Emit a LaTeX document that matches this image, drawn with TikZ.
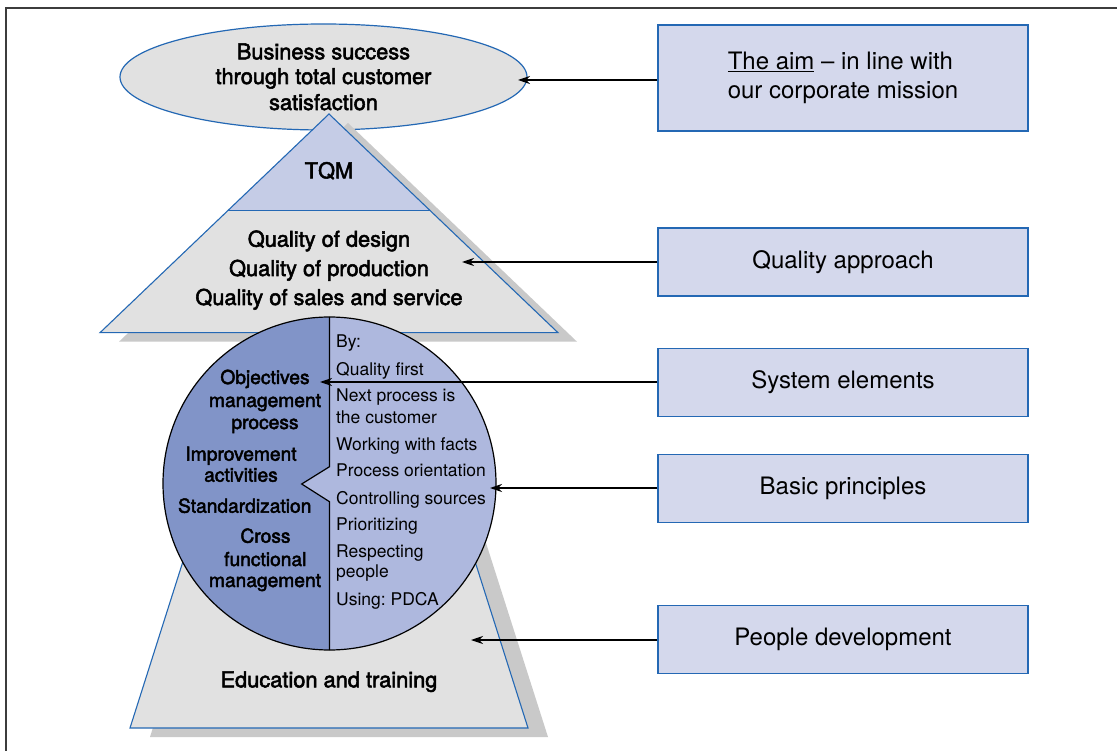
\documentclass[tikz,border=0pt]{standalone}
\usepackage{fontspec}
\setmainfont{TeX Gyre Heros}
\newfontfamily\medfont[FakeBold=2.4]{TeX Gyre Heros}
\usetikzlibrary{shapes.geometric,arrows.meta}
\frenchspacing
\definecolor{edgeblue}{HTML}{2468B4}
\definecolor{fillgray}{HTML}{E1E1E1}
\definecolor{shadowgray}{HTML}{C9C9C9}
\definecolor{tqmblue}{HTML}{C5CCE6}
\definecolor{boxblue}{HTML}{D4D8EC}
\definecolor{darkhalf}{HTML}{8194C8}
\definecolor{lighthalf}{HTML}{AEB8DE}
\definecolor{framegray}{HTML}{3C3C3C}
\begin{document}
\begin{tikzpicture}[x=1pt,y=-1pt,
  outline/.style={draw=edgeblue, line width=1.1pt},
  boxnode/.style={draw=edgeblue, fill=boxblue, line width=1.3pt, minimum width=370pt, minimum height=68pt, inner sep=0pt, align=left, font=\fontsize{24}{29}\selectfont},
  bigbold/.style={font=\fontsize{21.8}{25}\medfont, inner sep=0pt, anchor=base},
  leftbold/.style={font=\fontsize{19.2}{22}\medfont, inner sep=0pt, anchor=base},
  rightreg/.style={font=\fontsize{17.5}{21}\selectfont, inner sep=0pt, anchor=base west},
  arr/.style={-{Stealth[length=12pt,width=8pt]}, line width=1.1pt, black},
]
\useasboundingbox (0,0) rectangle (1117,751);
\fill[white] (0,0) rectangle (1117,751);
% frame
\draw[framegray, line width=2.5pt] (6,790) -- (6,8) -- (1160,8);

% goal ellipse
\node[ellipse, draw=edgeblue, fill=fillgray, line width=1.2pt, minimum width=407pt, minimum height=106pt, inner sep=0pt] (goal) at (323.5,77) {};
\node[bigbold] (g1) at (323.5,59.3) {Business success};
\node[bigbold] (g2) at (323.5,84) {through total customer};
\node[bigbold] (g3) at (323.5,110) {satisfaction};

% shadows
\fill[shadowgray] (348,123) -- (577,341.7) -- (119,341.7) -- cycle;
\fill[shadowgray] (150,737) -- (548,737) -- (456,449) -- (241,449) -- cycle;

% trapezoid
\draw[outline, fill=fillgray] (130,728) -- (528,728) -- (436.4,440) -- (221.6,440) -- cycle;

% triangle
\fill[fillgray] (227.7,210.7) -- (430.3,210.7) -- (558,332.7) -- (100,332.7) -- cycle;
\fill[tqmblue] (329,114) -- (430.3,210.7) -- (227.7,210.7) -- cycle;
\draw[outline, line join=miter] (329,114) -- (558,332.7) -- (100,332.7) -- cycle;
\draw[outline] (227.7,210.7) -- (430.3,210.7);
\node[bigbold] (tqm) at (329,178.3) {TQM};
\node[bigbold] (q1) at (329,246.7) {Quality of design};
\node[bigbold] (q2) at (329,276) {Quality of production};
\node[bigbold] (q3) at (329,305) {Quality of sales and service};

% circle
\fill[lighthalf] (329.5,483.5) circle[radius=166.5pt];
\begin{scope}
\clip (329.5,483.5) circle[radius=166.5pt];
\fill[darkhalf] (100,300) -- (329.5,300) -- (329.5,466.7) -- (301.7,484) -- (329.5,501.7) -- (329.5,700) -- (100,700) -- cycle;
\end{scope}
\draw[line width=1.2pt, line join=miter] (329.5,317) -- (329.5,466.7) -- (301.7,484) -- (329.5,501.7) -- (329.5,650);
\node[circle, draw, line width=1.2pt, minimum size=333pt, inner sep=0pt] (core) at (329.5,483.5) {};

% left texts
\node[leftbold] (l1) at (265,384) {Objectives};
\node[leftbold] (l2) at (265,407) {management};
\node[leftbold] (l3) at (265,429) {process};
\node[leftbold] (l4) at (241,460.7) {Improvement};
\node[leftbold] (l5) at (241,481.7) {activities};
\node[leftbold] (l6) at (244.7,512.7) {Standardization};
\node[leftbold] (l7) at (265.5,542.7) {Cross};
\node[leftbold] (l8) at (265.3,566) {functional};
\node[leftbold] (l9) at (265,587) {management};

% right texts
\node[rightreg] (r1) at (336,348) {By:};
\node[rightreg] (r2) at (336,376) {Quality first};
\node[rightreg] (r3) at (336,401.7) {Next process is};
\node[rightreg] (r4) at (336,424) {the customer};
\node[rightreg] (r5) at (336,450) {Working with facts};
\node[rightreg] (r6) at (336,476.7) {Process orientation};
\node[rightreg] (r7) at (336,504) {Controlling sources};
\node[rightreg] (r8) at (336,530) {Prioritizing};
\node[rightreg] (r9) at (336,557) {Respecting};
\node[rightreg] (r10) at (336,577) {people};
\node[rightreg] (r11) at (336,605) {Using: PDCA};

\node[bigbold] (edu) at (329,687.3) {Education and training};

% right boxes
\node[boxnode, minimum height=106pt] (b1) at (843,78) {\underline{The aim} \textendash{} in line with\\our corporate mission};
\node[boxnode] (b2) at (843,262) {Quality approach};
\node[boxnode] (b3) at (843,382.5) {System elements};
\node[boxnode] (b4) at (843,488.3) {Basic principles};
\node[boxnode] (b5) at (843,639.7) {People development};

% arrows
\coordinate (t1) at (518,80);
\coordinate (t2) at (462,262);
\coordinate (t3) at (320,382);
\coordinate (t4) at (490,488);
\coordinate (t5) at (471,640);
\draw[arr] (t1 -| b1.west) -- (t1);
\draw[arr] (t2 -| b2.west) -- (t2);
\draw[arr] (t3 -| b3.west) -- (t3);
\draw[arr] (t4 -| b4.west) -- (t4);
\draw[arr] (t5 -| b5.west) -- (t5);
\end{tikzpicture}
\end{document}
